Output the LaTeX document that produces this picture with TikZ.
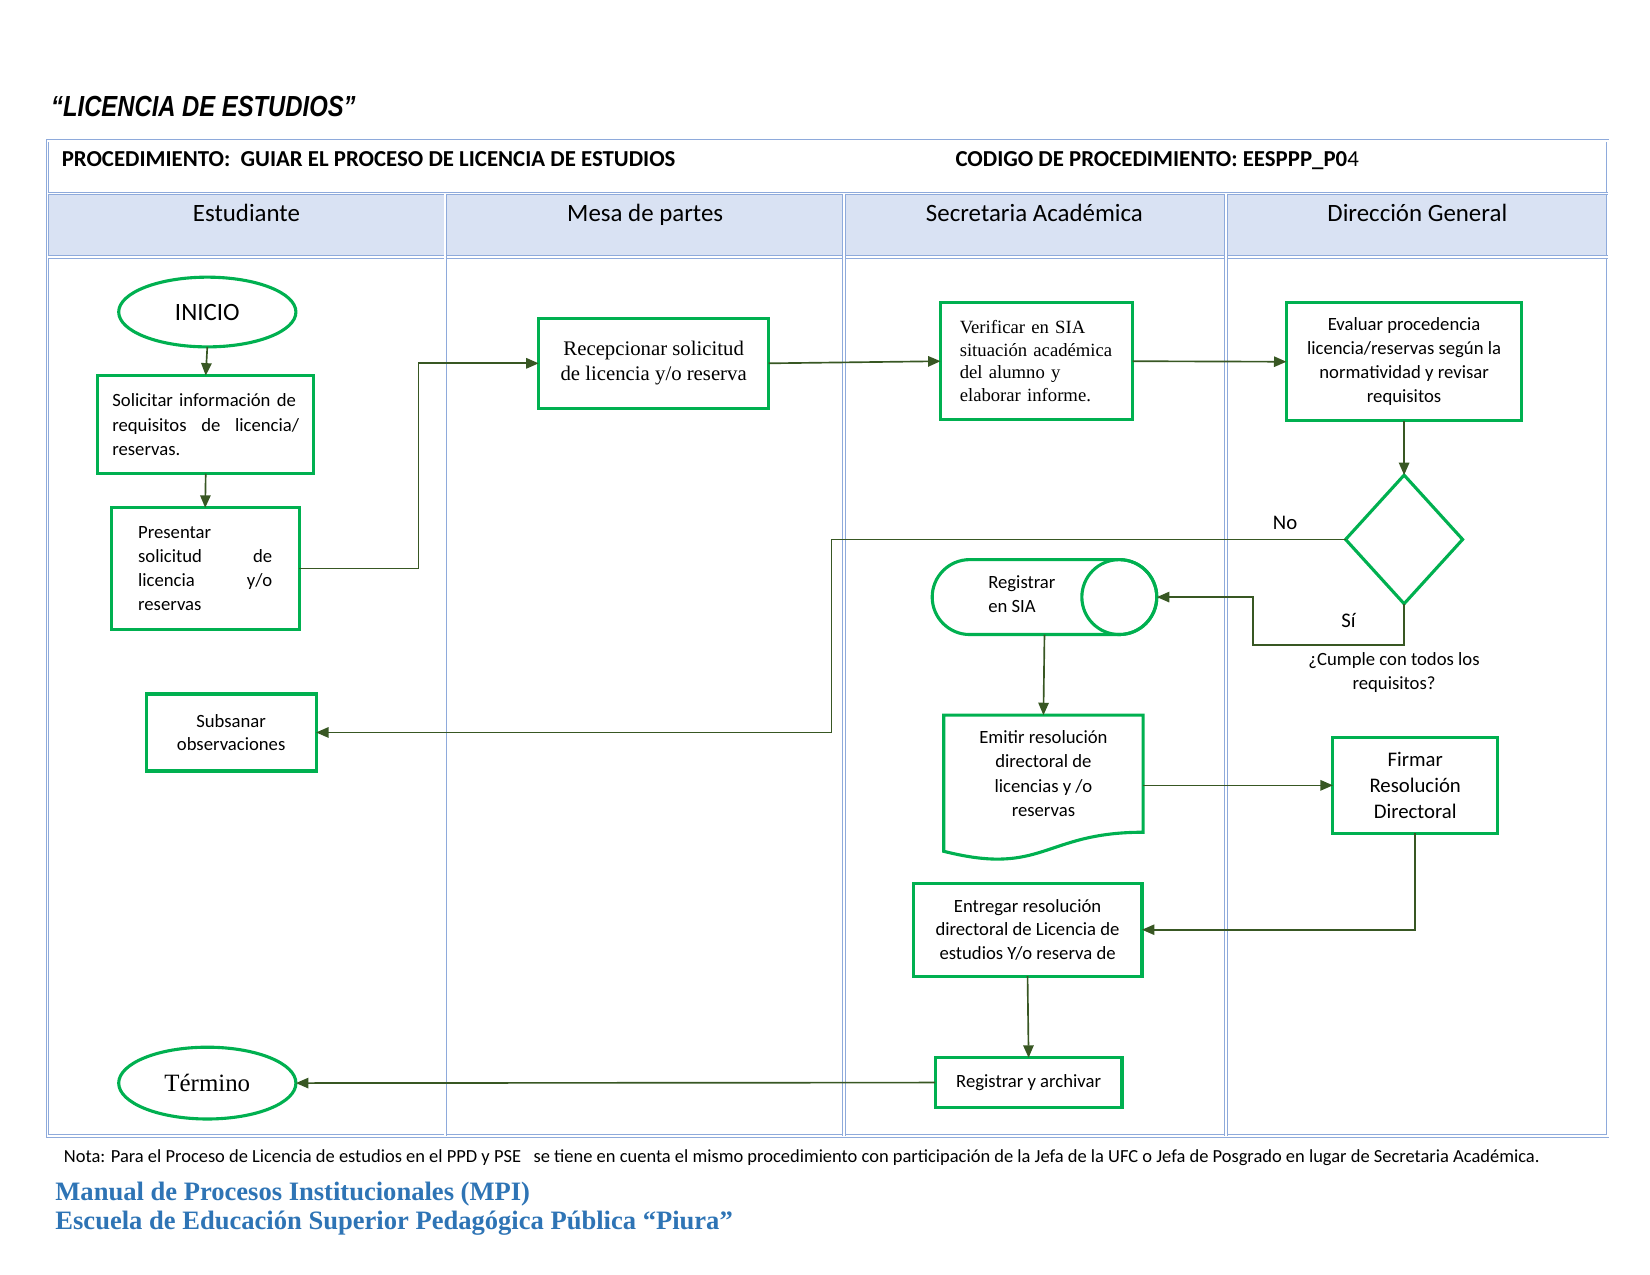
\documentclass[tikz,border=0pt]{standalone}
\usepackage{fontspec}
\setmainfont{Carlito}
\newfontfamily\timesFont{Liberation Serif}
\newfontfamily\narrowFont[FakeStretch=0.82]{Liberation Sans}
\usepackage{xcolor}
\definecolor{boxgreen}{HTML}{00B050}
\definecolor{flowgreen}{HTML}{385723}
\definecolor{laneblue}{HTML}{8EAADB}
\definecolor{headblue}{HTML}{D9E2F3}
\definecolor{mpiblue}{HTML}{2E74B5}
\usepackage{tikz}
\usetikzlibrary{calc,shapes.geometric,arrows.meta}
\tikzset{
  laneLine/.style={%
    draw=laneblue,
    line width=0.4pt,
    double=white,
    double distance=0.8pt},
  laneTitle/.style={%
    font=\fontsize{12}{14}\selectfont,
    anchor=base},
  processBox/.style={%
    draw=boxgreen,
    line width=1.5pt,
    rectangle,
    inner sep=0pt,
    outer sep=0pt,
    font=\fontsize{9}{11.7}\selectfont},
  shapeText/.style={%
    rectangle,
    inner sep=0pt,
    outer sep=0pt,
    font=\fontsize{9}{11.7}\selectfont},
  shapeLine/.style={%
    draw=boxgreen,
    line width=1.5pt},
  terminalNode/.style={%
    draw=boxgreen,
    line width=1.5pt,
    ellipse,
    inner sep=0pt,
    outer sep=0pt,
    minimum width=85.4pt},
  decisionNode/.style={%
    draw=boxgreen,
    line width=1.5pt,
    diamond,
    inner sep=0pt,
    outer sep=0pt},
  flowArrow/.style={%
    draw=flowgreen,
    line width=0.8pt,
    -{Triangle[length=6pt,width=5pt]}},
  flowLabel/.style={%
    inner sep=0pt,
    font=\fontsize{9}{11.7}\selectfont},
  }

\begin{document}
\begin{tikzpicture}[x=0.01791cm,y=-0.01791cm]
  \useasboundingbox (0,0) rectangle (1560,1205);

  % title and table of lanes
  \node[anchor=base west,inner sep=0pt,font=\fontsize{14}{16}\narrowFont\bfseries\itshape] (title) at (48,110) {“LICENCIA DE ESTUDIOS”};
  \fill[headblue] (45,183) rectangle (1520,243);
  \draw[laneLine] (45,133) rectangle (1520,1074);
  \draw[laneLine] (45,183) -- (1520,183);
  \draw[laneLine] (45,243) -- (1520,243);
  \draw[laneLine] (421,183) -- (421,1074);
  \draw[laneLine] (798,183) -- (798,1074);
  \draw[laneLine] (1159,183) -- (1159,1074);
  \node[anchor=base west,inner sep=0pt,font=\fontsize{11}{13}\selectfont\bfseries] (procedure) at (58,157) {PROCEDIMIENTO:\ \ GUIAR EL PROCESO DE LICENCIA DE ESTUDIOS};
  \node[anchor=base west,inner sep=0pt,font=\fontsize{11}{13}\selectfont\bfseries] (code) at (903,157) {CODIGO DE PROCEDIMIENTO: EESPPP\_P0{\mdseries 4}};
  \node[laneTitle] (lane 1) at (233,209) {Estudiante};
  \node[laneTitle] (lane 2) at (610,209) {Mesa de partes};
  \node[laneTitle] (lane 3) at (978,209) {Secretaria Académica};
  \node[laneTitle] (lane 4) at (1340,209) {Dirección General};

  % steps
  \node[terminalNode,minimum height=33.6pt,font=\fontsize{12}{14}\selectfont] (inicio) at (196,295) {INICIO};
  \node[processBox,minimum width=104.2pt,minimum height=47.3pt,text width=90pt,align=left] (solicitar) at (194.5,401.5)
    {Solicitar información de\\requisitos \hfill de \hfill licencia/\\reservas.};
  \node[processBox,minimum width=90.5pt,minimum height=58.5pt,text width=64.6pt,align=left] (presentar) at (194,537.5)
    {Presentar\\solicitud \hfill de\\licencia \hfill y/o\\reservas};
  \node[processBox,minimum width=81.9pt,minimum height=37.1pt,align=center,font=\fontsize{9}{11.2}\selectfont] (subsanar) at (218.5,692.5)
    {Subsanar\\observaciones};
  \node[terminalNode,minimum height=34.6pt,font=\fontsize{12}{14}\timesFont] (termino) at (196,1024) {Término};
  \node[processBox,minimum width=110.8pt,minimum height=43.2pt,align=center,font=\fontsize{10}{12.2}\timesFont] (recepcionar) at (618,343.5)
    {Recepcionar solicitud\\de licencia y/o reserva};
  \node[processBox,minimum width=92.5pt,minimum height=56.4pt,text width=74pt,align=left,font=\fontsize{9}{10.9}\timesFont] (verificar) at (980,341.5)
    {Verificar en SIA\\situación académica\\del alumno y\\elaborar informe.};
  \node[processBox,minimum width=113.4pt,minimum height=56.9pt,align=center,font=\fontsize{9}{11.5}\selectfont] (evaluar) at (1327.5,342)
    {Evaluar procedencia\\licencia/reservas según la\\normatividad y revisar\\requisitos};
  \node[decisionNode,minimum width=56.4pt,minimum height=62pt] (decision) at (1327.5,510) {};
  \node[flowLabel,font=\fontsize{10}{12}\selectfont] (noLabel) at (1215,494) {No};
  \node[flowLabel,font=\fontsize{10}{12}\selectfont] (siLabel) at (1275,587) {Sí};
  \node[flowLabel,align=center] (question) at (1318,635.5) {¿Cumple con todos los\\requisitos?};
  \node[shapeText,minimum width=108.3pt,minimum height=36.1pt,
    label={[flowLabel,align=left,xshift=-10.9pt,yshift=1.5pt]center:Registrar\\en SIA}] (sia) at (987.5,564.5) {};
  \draw[shapeLine] ($(sia.north west)+(35.5,0)$) -- ($(sia.north east)+(-35.5,0)$)
    arc[start angle=90,end angle=-90,radius=18.05pt] -- ($(sia.south west)+(35.5,0)$)
    arc[start angle=270,end angle=90,radius=18.05pt] -- cycle;
  \draw[shapeLine] ($(sia.east)+(-35.5,0)$) circle[radius=18.05pt];
  \node[shapeText,minimum width=96.1pt,minimum height=56.4pt,align=center] (emitir) at (986.5,731.5)
    {Emitir resolución\\directoral de\\licencias y /o\\reservas};
  \draw[shapeLine] ($(emitir.south west)+(0,18)$) -- (emitir.north west) -- (emitir.north east) -- (emitir.south east)
    .. controls (emitir.south) and ($(emitir.south)+(0,42)$) .. cycle;
  \node[processBox,minimum width=79.3pt,minimum height=46.3pt,align=center,font=\fontsize{10}{12.7}\selectfont] (firmar) at (1338,742.5)
    {Firmar\\Resolución\\Directoral};
  \node[processBox,minimum width=110.3pt,minimum height=44.7pt,align=center,font=\fontsize{9}{11.4}\selectfont] (entregar) at (971.5,879)
    {Entregar resolución\\directoral de Licencia de\\estudios Y/o reserva de};
  \node[processBox,minimum width=90pt,minimum height=23.9pt] (archivar) at (972.5,1023.5) {Registrar y archivar};

  % connectors
  \draw[flowArrow] (inicio.south) -- (solicitar.north);
  \draw[flowArrow] (solicitar.south) -- (presentar.north);
  \draw[flowArrow] (presentar.east) -- ++(113,0) |- (recepcionar.west);
  \draw[flowArrow] (recepcionar.east) -- (verificar.west);
  \draw[flowArrow] (verificar.east) -- (evaluar.west);
  \draw[flowArrow] (evaluar.south) -- (decision.north);
  \draw[flowArrow] (decision.west) -- ++(-486,0) |- (subsanar.east);
  \draw[flowArrow] (decision.south) -- ++(0,39) -- ++(-143,0) |- (sia.east);
  \draw[flowArrow] (sia.south) -- (emitir.north);
  \draw[flowArrow] (emitir.east |- firmar.west) -- (firmar.west);
  \draw[flowArrow] (firmar.south) |- (entregar.east);
  \draw[flowArrow] (entregar.south) -- (archivar.north);
  \draw[flowArrow] (archivar.west) -- (termino.east);

  % note and footer
  \node[anchor=base west,inner sep=0pt,font=\fontsize{8.9}{11}\selectfont] (note) at (60,1099)
    {Nota: Para el Proceso de Licencia de estudios en el PPD y PSE \ \ se tiene en cuenta el mismo procedimiento con participación de la Jefa de la UFC o Jefa de Posgrado en lugar de Secretaria Académica.};
  \node[anchor=base west,inner sep=0pt,text=mpiblue,font=\fontsize{12.8}{15}\timesFont\bfseries] (manual) at (52,1135)
    {Manual de Procesos Institucionales (MPI)};
  \node[anchor=base west,inner sep=0pt,text=mpiblue,font=\fontsize{12.8}{15}\timesFont\bfseries] (school) at (52,1162)
    {Escuela de Educación Superior Pedagógica Pública “Piura”};
\end{tikzpicture}
\end{document}
